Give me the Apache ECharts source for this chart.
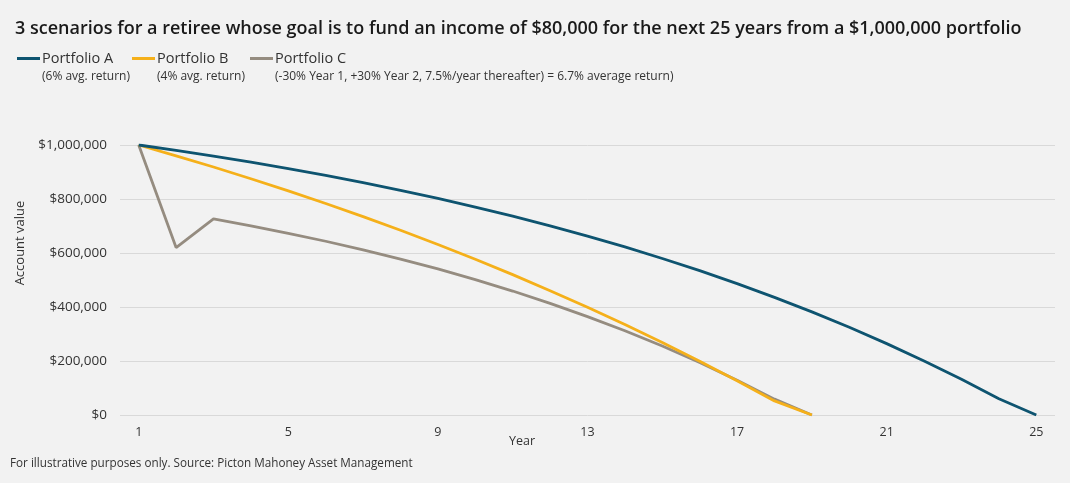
<!DOCTYPE html>
<html><head><meta charset="utf-8">
<script src="https://cdn.jsdelivr.net/npm/echarts@6/dist/echarts.min.js"></script>
<style>html,body{margin:0;padding:0;background:#f2f2f2;}#c{width:1070px;height:483px;}</style>
</head><body><div id="c"></div>
<script>
const years = ['1','2','3','4','5','6','7','8','9','10','11','12','13','14','15','16','17','18','19','20','21','22','23','24','25'];
const portfolioA = [1000000,980000,958800,936300,912500,887300,860500,832100,802100,770200,736400,700600,662600,622400,579700,534500,486500,435700,381900,324800,264300,200100,132200,60100,0];
const portfolioB = [1000000,960000,918400,875100,830100,783300,734700,684100,631400,576700,519800,460500,399000,334900,268300,199100,127000,52100,0];
const portfolioC = [1000000,620000,726000,700500,673000,643500,611700,577600,540900,501500,459100,413500,364500,311900,255300,194400,129000,58700,0];
const seriesNames = ['Portfolio A','Portfolio B','Portfolio C'];
const subtitles = ['(6% avg. return)','(4% avg. return)','(-30% Year 1, +30% Year 2, 7.5%/year thereafter) = 6.7% average return)'];
const colors = ['#0e5470','#f5b01a','#958c80'];
const font = '"Open Sans", sans-serif';
const legendLefts = [17, 132, 250];

const chart = echarts.init(document.getElementById('c'));
chart.setOption({
  backgroundColor: '#f2f2f2',
  animation: false,
  textStyle: {fontFamily: font},
  title: {text: '3 scenarios for a retiree whose goal is to fund an income of $80,000 for the next 25 years from a $1,000,000 portfolio',
    left: 10, top: 15, textStyle: {fontFamily: font, fontSize: 18, fontWeight: 600, color: '#1a1a1a'}},
  legend: seriesNames.map((n, i) => ({
    data: [n], left: legendLefts[i], top: 51, padding: 0, icon: 'rect', itemWidth: 23, itemHeight: 3, itemGap: 0,
    textStyle: {fontFamily: font, fontSize: 14.5, color: '#333', padding: [0,0,0,-3]}
  })),
  graphic: [
    ...subtitles.map((s, i) => ({type: 'text', left: legendLefts[i] + 25, top: 71,
      style: {text: s, fontFamily: font, fontSize: 12, fill: '#333'}})),
    {type: 'text', x: 20, y: 243, rotation: Math.PI/2,
      style: {x: 0, y: 0, text: 'Account value', fontFamily: font, fontSize: 13, fill: '#333', align: 'center', verticalAlign: 'middle'}},
    {type: 'text', x: 522, y: 441, style: {x: 0, y: 0, text: 'Year', fontFamily: font, fontSize: 12.5, fill: '#333', align: 'center', verticalAlign: 'middle'}},
    {type: 'text', left: 10, top: 458, style: {text: 'For illustrative purposes only. Source: Picton Mahoney Asset Management', fontFamily: font, fontSize: 11.7, fill: '#333'}}
  ],
  grid: {left: 120, right: 15, top: 145, bottom: 68},
  xAxis: {type: 'category', data: years, boundaryGap: true,
    axisLine: {show: false}, axisTick: {show: false},
    axisLabel: {interval: 3, color: '#333', fontSize: 12.5, margin: 11}},
  yAxis: {type: 'value', min: 0, max: 1000000, interval: 200000,
    axisLine: {show: false}, axisTick: {show: false},
    splitLine: {lineStyle: {color: '#d9d9d9', width: 1}},
    axisLabel: {color: '#333', fontSize: 13.5, margin: 13,
      formatter: v => '$' + v.toLocaleString('en-US')}},
  series: [portfolioA, portfolioB, portfolioC].map((d, i) => ({
    name: seriesNames[i], type: 'line', data: d, symbol: 'none', z: 3 - i,
    lineStyle: {color: colors[i], width: 2.8}, itemStyle: {color: colors[i]}
  }))
});
</script></body></html>
